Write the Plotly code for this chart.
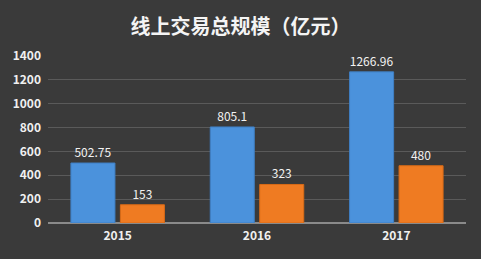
import plotly.graph_objects as go

years = ["2015", "2016", "2017"]
online_total = [502.75, 805.1, 1266.96]
second_series = [153, 323, 480]
y_ticks = [0, 200, 400, 600, 800, 1000, 1200, 1400]
title_text = "线上交易总规模（亿元）"

font_family = "Noto Sans CJK SC, Noto Sans, DejaVu Sans, sans-serif"

fig = go.Figure()
fig.add_trace(go.Bar(
    x=years, y=online_total,
    marker=dict(color="#4b92dc", line=dict(color="#3f7fc4", width=1)),
    text=[str(v) for v in online_total], textposition="outside",
    textfont=dict(color="#f2f2f2", size=12, family=font_family),
    cliponaxis=False, showlegend=False,
))
fig.add_trace(go.Bar(
    x=years, y=second_series,
    marker=dict(color="#ef7b22", line=dict(color="#d86a16", width=1)),
    text=[str(v) for v in second_series], textposition="outside",
    textfont=dict(color="#f2f2f2", size=12, family=font_family),
    cliponaxis=False, showlegend=False,
))

fig.update_layout(
    width=481, height=259,
    margin=dict(l=48, r=15, t=56, b=36),
    paper_bgcolor="#3a3a3a", plot_bgcolor="#3a3a3a",
    barmode="group", bargap=0.29, bargroupgap=0.11,
    title=dict(text="<b>" + title_text + "</b>", x=0.5, xanchor="center",
               y=0.895, yanchor="middle",
               font=dict(size=20, color="#f4f4f4", family=font_family)),
    font=dict(family=font_family, color="#f0f0f0"),
)
fig.update_yaxes(
    range=[0, 1400], tickvals=y_ticks,
    ticktext=["<b>%d</b>" % t for t in y_ticks],
    showgrid=True, gridcolor="#5a5a5a", gridwidth=1,
    zeroline=True, zerolinecolor="#8a8a8a", zerolinewidth=2,
    tickfont=dict(size=12, color="#f0f0f0", family=font_family),
    ticks="", ticklabelstandoff=6, fixedrange=True,
)
fig.update_xaxes(
    tickvals=years, ticktext=["<b>%s</b>" % y for y in years],
    tickfont=dict(size=12, color="#f0f0f0", family=font_family),
    showline=False, ticks="", ticklabelstandoff=4,
)

fig.write_html("out.html")
